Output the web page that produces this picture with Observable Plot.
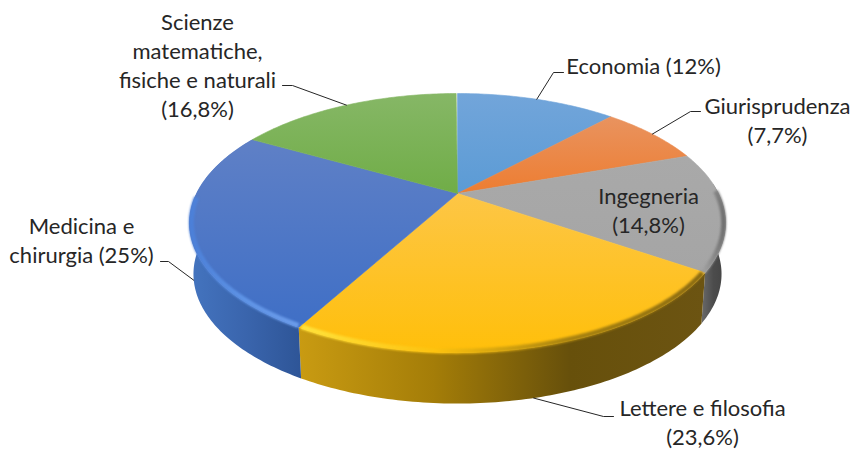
<!DOCTYPE html>
<html>
<head>
<meta charset="utf-8">
<script src="https://cdn.jsdelivr.net/npm/d3@7"></script>
<script src="https://cdn.jsdelivr.net/npm/@observablehq/plot@0.6"></script>
<style>
  html, body { margin: 0; padding: 0; background: #fff; }
  svg { display: block; }
</style>
</head>
<body>
<div id="chart"></div>
<script>
// Iscritti per area disciplinare (%)
const categories = ["Economia", "Giurisprudenza", "Ingegneria", "Lettere e filosofia", "Medicina e chirurgia", "Scienze matematiche, fisiche e naturali"];
const shares = [12, 7.7, 14.8, 23.6, 25, 16.8];
const shareLabels = ["12%", "7,7%", "14,8%", "23,6%", "25%", "16,8%"];
const labelLines = [
  "Economia (12%)",
  "Giurisprudenza\n(7,7%)",
  "Ingegneria\n(14,8%)",
  "Lettere e filosofia\n(23,6%)",
  "Medicina e\nchirurgia (25%)",
  "Scienze\nmatematiche,\nfisiche e naturali\n(16,8%)"
];

// Slice colours: top face (back → front), wall stops, bevel stops
const topColors = [["#72a5da", "#5b9bd5"], ["#e9935f", "#ed7d31"], ["#a9a9a9", "#a5a5a5"], ["#fdc646", "#ffbf0a"], ["#5f80c6", "#3f6fc6"], ["#86b766", "#70ad47"]];
const wallColors = { 2: ["#6a6a6a", "#4c4c4c", "#444444"], 3: ["#c99b12", "#a47d08", "#67500b", "#6c5412"], 4: ["#4474bf", "#3a65ad", "#2e5597"] };
const bevelColors = { 2: ["#a0a0a0", "#8a8a8a", "#707070"], 3: ["#ffe23c", "#fdc20f", "#a98310", "#8b6b12"], 4: ["#4c80d8", "#5f94e6", "#6c9cea"] };

// Label centres and the elbow of each leader line
const labelCenters = [[643, 64], [777, 119], [648, 209], [702, 420.5], [81, 239], [197, 64]];
const elbows = [[[553, 72], [563, 72]], [[690, 111], [700, 111]], null, [[603, 416], [613, 416]], [[168, 261], [160, 261]], [[292, 85], [282, 85]]];
const leaderOnBase = [false, false, false, true, true, false];

// Disc geometry: a tilted circle seen in perspective
const apex = [457, 193], radiusX = 261, radiusY = 122.8, perspective = 0.228, depth = 51, baseShrink = 0.985;

function rim(pct, r = 1) {
  const a = (pct / 100) * 2 * Math.PI, X = Math.sin(a) * r, Y = Math.cos(a) * r, w = 1 + perspective * Y;
  return { x: apex[0] + radiusX * X / w, y: apex[1] - radiusY * Y / w };
}
function base(pct) {
  const p = rim(pct);
  return { x: apex[0] + (p.x - apex[0]) * baseShrink, y: p.y + depth };
}
function sweep(from, to, fn) {
  const n = Math.max(2, Math.ceil((to - from) * 4));
  return d3.range(n + 1).map((i) => fn(from + (to - from) * i / n));
}

const cumulative = d3.cumsum(shares);
const starts = shares.map((s, i) => cumulative[i] - s);
const ends = Array.from(cumulative);
const mids = shares.map((s, i) => starts[i] + s / 2);

// Gradient definitions referenced by the marks below
function gradients() {
  const defs = d3.create("svg:defs");
  const add = (id, stops, vertical) => {
    const g = defs.append("linearGradient").attr("id", id)
      .attr("x1", 0).attr("y1", 0).attr("x2", vertical ? 0 : 1).attr("y2", vertical ? 1 : 0);
    stops.forEach((c, i) => g.append("stop").attr("offset", i / (stops.length - 1)).attr("stop-color", c));
  };
  topColors.forEach((c, i) => add(`top${i}`, c, true));
  Object.entries(wallColors).forEach(([i, c]) => add(`wall${i}`, c, false));
  Object.entries(bevelColors).forEach(([i, c]) => add(`bevel${i}`, c, false));
  return defs.node();
}

const front = [2, 3, 4];
const frontRange = { 2: [starts[2] + 4, ends[2]], 3: [starts[3], ends[3]], 4: [starts[4], ends[4]] };
const bevelRange = { 2: [starts[2] + 5, ends[2]], 3: [starts[3] + 0.1, ends[3] - 0.1], 4: [starts[4] + 0.1, 74.5] };

const walls = front.map((i) => {
  const [a, b] = frontRange[i];
  const pts = [...sweep(a, b, (t) => rim(t)), ...sweep(a, b, (t) => base(t)).reverse()];
  return Plot.line(pts, { x: "x", y: "y", fill: `url(#wall${i})`, stroke: "none" });
});

const faces = shares.map((_, i) => {
  const center = { x: apex[0], y: apex[1] };
  const pts = [center, ...sweep(starts[i], ends[i], (t) => rim(t)), center];
  return Plot.line(pts, { x: "x", y: "y", fill: `url(#top${i})`, stroke: `url(#top${i})`, strokeWidth: 0.6 });
});

const bevels = front.map((i) => {
  const [a, b] = bevelRange[i];
  return Plot.line(sweep(a, b, (t) => rim(t, 0.993)), {
    x: "x", y: "y", stroke: `url(#bevel${i})`, strokeWidth: 5, imageFilter: "blur(1.3px)", strokeLinecap: "butt"
  });
});

const leaders = elbows.flatMap((e, i) => {
  if (!e) return [];
  const start = leaderOnBase[i] ? base(mids[i]) : rim(mids[i]);
  return [Plot.line([start, ...e.map(([x, y]) => ({ x, y }))], { x: "x", y: "y", stroke: "#262626", strokeWidth: 1 })];
});

const labels = Plot.text(labelLines.map((text, i) => ({ text, x: labelCenters[i][0], y: labelCenters[i][1] })), {
  x: "x", y: "y", text: "text", textAnchor: "middle", lineAnchor: "middle", lineHeight: 1.32,
  fontSize: 22, fill: "#262626"
});

const chart = Plot.plot({
  width: 852, height: 449, margin: 0,
  style: { fontFamily: "Lato, sans-serif", background: "#fff" },
  x: { axis: null, domain: [0, 852], range: [0, 852] },
  y: { axis: null, domain: [0, 449], range: [0, 449] },
  marks: [gradients, ...walls, ...faces, ...bevels, ...leaders, labels]
});
document.getElementById("chart").append(chart);
</script>
</body>
</html>
